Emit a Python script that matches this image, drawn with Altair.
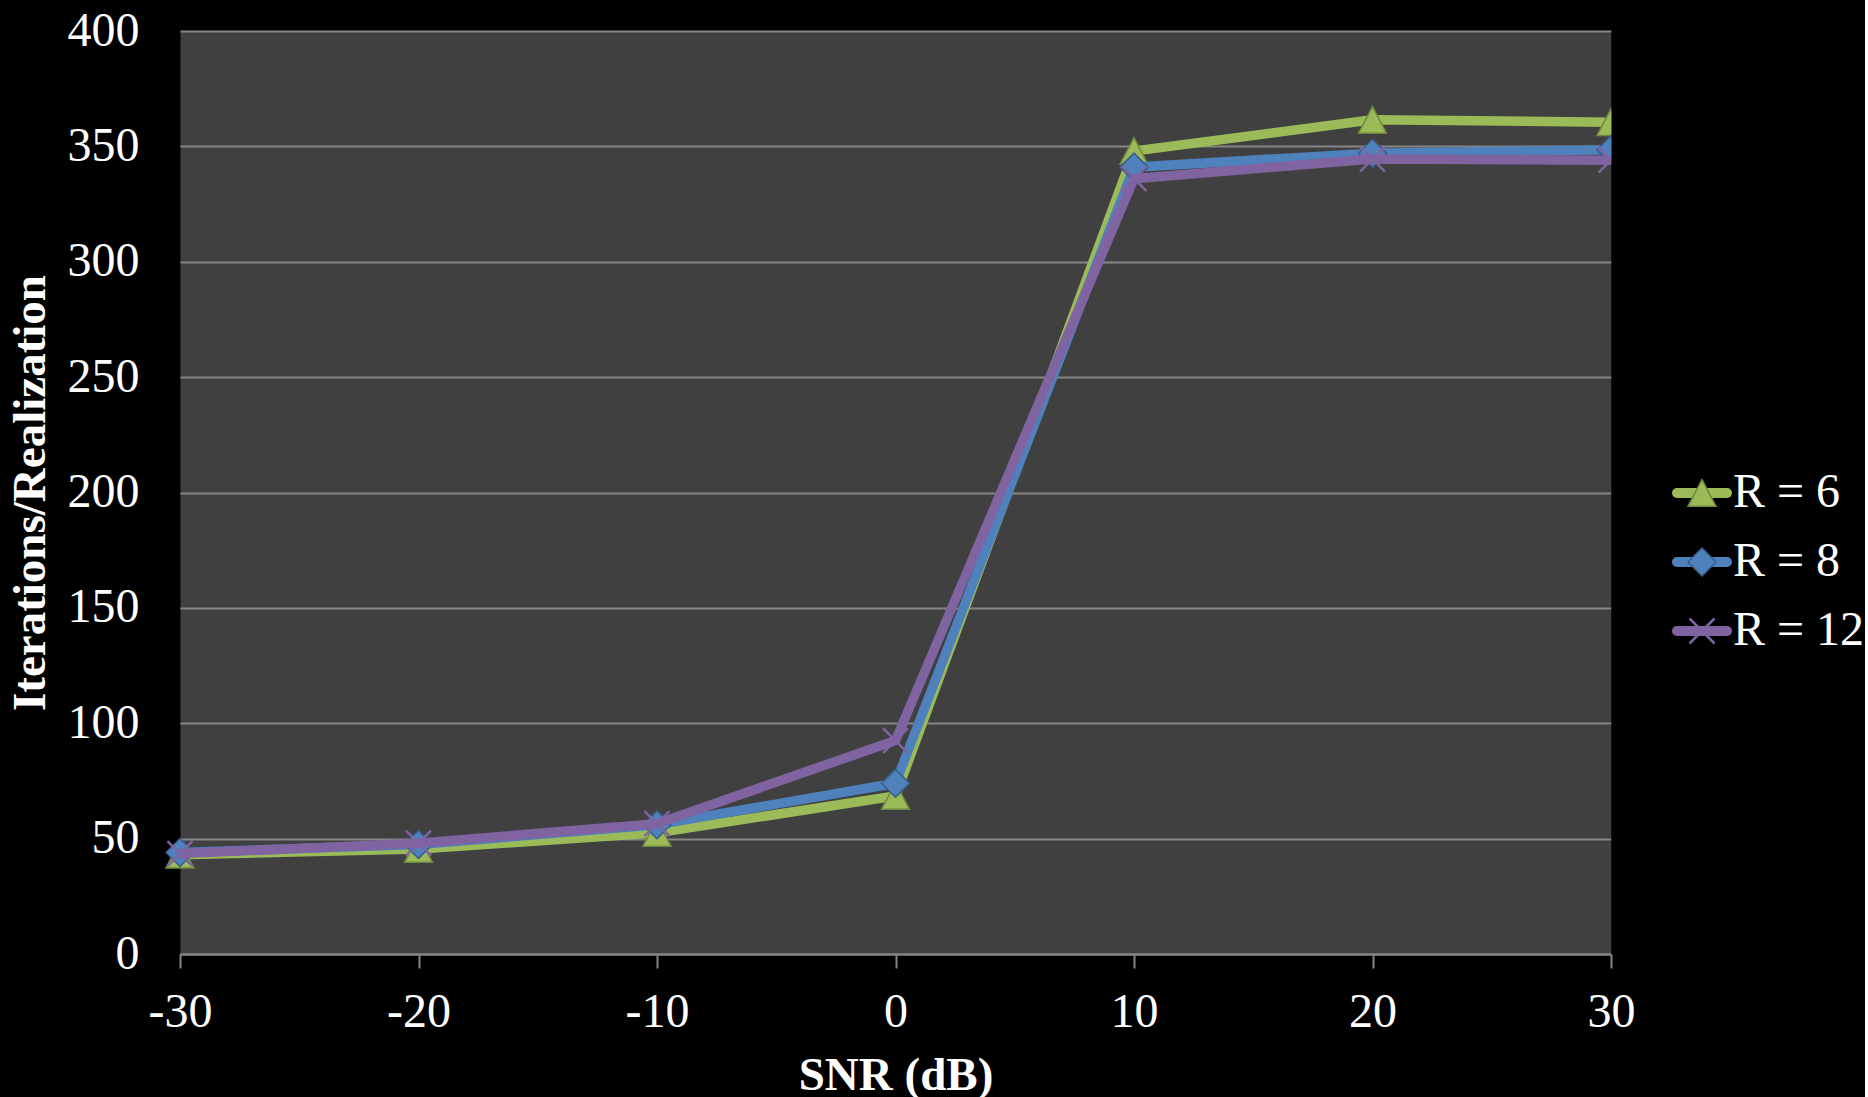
import altair as alt
import pandas as pd

# ---- data ----
snr = [-30, -20, -10, 0, 10, 20, 30]
r6 = [43, 45.5, 52.5, 68.5, 348, 361.5, 360.5]
r8 = [44, 47.5, 56, 74, 341, 347, 348.5]
r12 = [43.5, 48, 56.5, 92.5, 336, 344.5, 344]
series = ["R = 6", "R = 8", "R = 12"]
x_ticks = [-30, -20, -10, 0, 10, 20, 30]
y_ticks = [0, 50, 100, 150, 200, 250, 300, 350, 400]

# ---- styling ----
FONT = "Liberation Serif"
line_colors = ["#9BBB59", "#4F81BD", "#8064A2"]
marker_fill = ["#9BBB59", "#4F81BD", "#8064A2"]
marker_stroke = ["#71893F", "#385D8A", "#8064A2"]
TRI_PATH = "M0,-0.95L1,0.95L-1,0.95Z"
X_PATH = "M-1,-1L1,1M-1,1L1,-1"
shapes = [TRI_PATH, "diamond", X_PATH]
sizes = [784, 784, 625]
GRID = "#868686"

rows = []
for name, vals in zip(series, [r6, r8, r12]):
    for s, v in zip(snr, vals):
        rows.append({"snr": s, "val": v, "series": name})
df = pd.DataFrame(rows)

x_enc = alt.X(
    "snr:Q",
    scale=alt.Scale(domain=[-30, 30], nice=False, zero=False),
    axis=alt.Axis(
        values=x_ticks, title="SNR (dB)", grid=False,
        labelExpr="datum.value + ''",
        domain=True, domainColor=GRID, domainWidth=2,
        ticks=True, tickColor=GRID, tickWidth=2, tickSize=14,
        labelFont=FONT, labelFontSize=48, labelColor="white", labelPadding=20,
        titleFont=FONT, titleFontSize=47, titleFontWeight="bold", titleColor="white",
        titlePadding=16, labelFlush=False,
    ),
)
y_enc = alt.Y(
    "val:Q",
    scale=alt.Scale(domain=[0, 400], nice=False),
    axis=alt.Axis(
        values=y_ticks, title="Iterations/Realization",
        grid=True, gridColor=GRID, gridWidth=2,
        domain=False, ticks=False,
        labelFont=FONT, labelFontSize=48, labelColor="white", labelPadding=41,
        titleFont=FONT, titleFontSize=47, titleFontWeight="bold", titleColor="white",
        titlePadding=13,
    ),
)

base = alt.Chart(df)
layers = []
for i, name in enumerate(series):
    sub = base.transform_filter(alt.datum.series == name)
    line = sub.mark_line(strokeWidth=9.5, color=line_colors[i]).encode(x=x_enc, y=y_enc)
    if i == 2:
        pts = sub.mark_point(shape=shapes[i], size=sizes[i], filled=False,
                             stroke=marker_stroke[i], strokeWidth=2.5, opacity=1).encode(x=x_enc, y=y_enc)
    else:
        pts = sub.mark_point(shape=shapes[i], size=sizes[i], filled=True,
                             fill=marker_fill[i], stroke=marker_stroke[i], strokeWidth=1.5,
                             opacity=1).encode(x=x_enc, y=y_enc)
    layers += [line, pts]

main = alt.layer(*layers).properties(
    width=1431, height=923,
    view=alt.ViewBackground(fill="#404040", stroke="transparent"),
)

# ---- legend panel ----
leg_df = pd.DataFrame({"series": series, "order": list(range(len(series)))})
leg_y = alt.Y("order:Q", scale=alt.Scale(domain=[0, 2], range=[462, 600], nice=False, zero=False),
              axis=None)
leg_base = alt.Chart(leg_df)
leg_layers = []
for i, name in enumerate(series):
    sub = leg_base.transform_filter(alt.datum.series == name)
    rule = sub.mark_rule(strokeWidth=10, strokeCap="round", color=line_colors[i]).encode(
        x=alt.value(66), x2=alt.value(116), y=leg_y)
    if i == 2:
        pt = sub.mark_point(shape=shapes[i], size=sizes[i], filled=False,
                            stroke=marker_stroke[i], strokeWidth=2.5, opacity=1).encode(
            x=alt.value(91), y=leg_y)
    else:
        pt = sub.mark_point(shape=shapes[i], size=sizes[i], filled=True,
                            fill=marker_fill[i], stroke=marker_stroke[i], strokeWidth=1.5,
                            opacity=1).encode(x=alt.value(91), y=leg_y)
    leg_layers += [rule, pt]
leg_text = leg_base.mark_text(align="left", baseline="middle", font=FONT, fontSize=48,
                              color="white").encode(x=alt.value(122), y=leg_y, text="series:N")
leg_layers.append(leg_text)
legend = alt.layer(*leg_layers).properties(
    width=250, height=923,
    view=alt.ViewBackground(fill="black", stroke="transparent"),
)

chart = alt.hconcat(main, legend, spacing=0, bounds="flush").properties(
    background="black",
    padding={"left": 5, "top": 6, "right": 0, "bottom": 0},
).configure_view(stroke="transparent")

chart.save("out.html", embed_options={"renderer": "svg", "actions": False})
